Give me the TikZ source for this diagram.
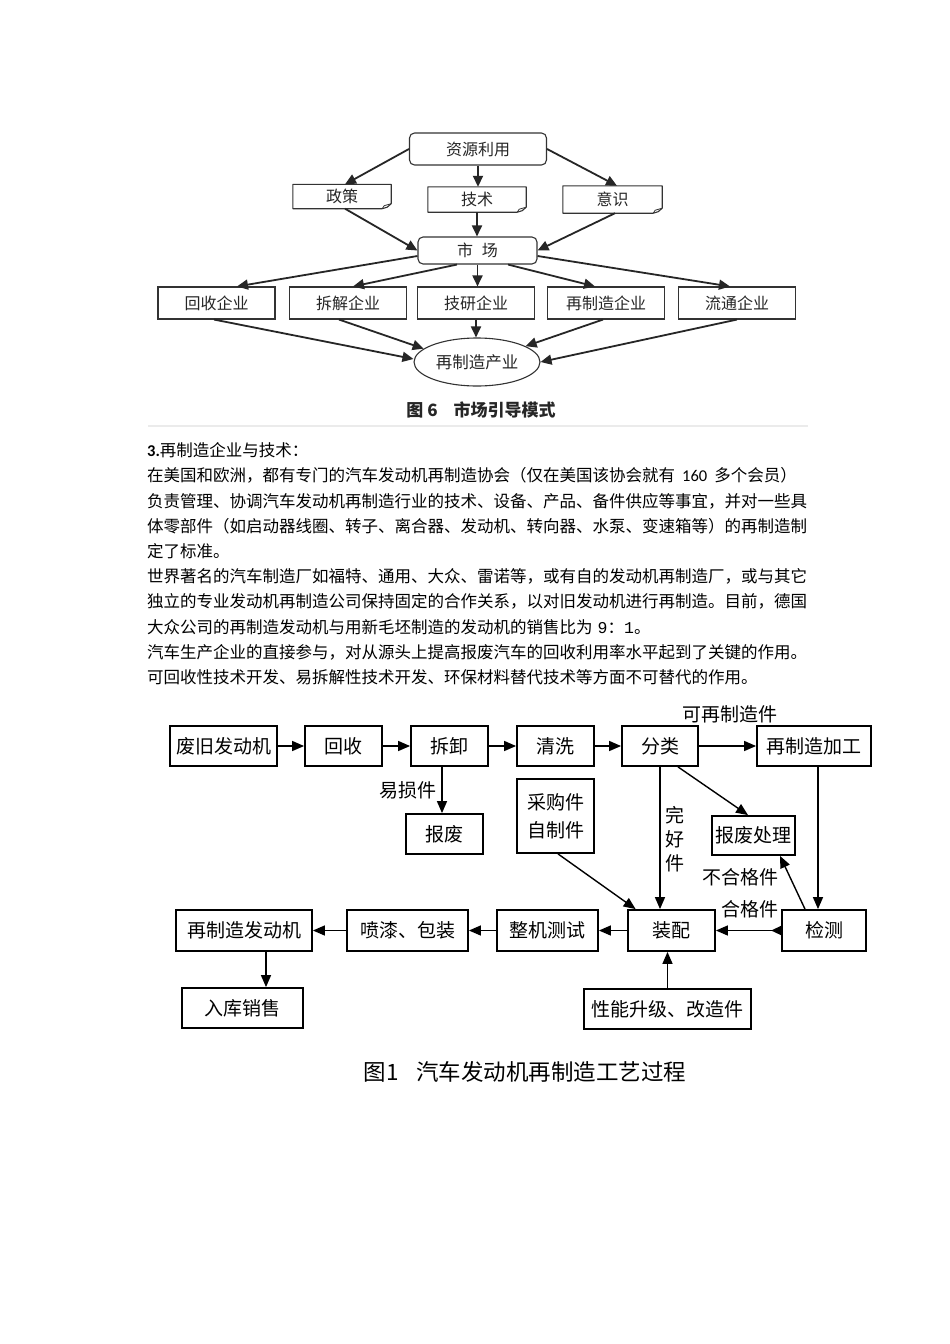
\documentclass[tikz,border=0pt]{standalone}
\usepackage{fontspec}
\newfontfamily\cjk{Noto Sans CJK SC}
\newfontfamily\carlito{Carlito}
\newfontfamily\lmono{Liberation Mono}
\usetikzlibrary{arrows.meta,shapes.geometric,calc}
\newcommand\notepath[1]{%
  \draw[line width=1.1pt, draw=black!80, line join=round]
    (#1.north west) -- (#1.north east) -- ([yshift=5pt]#1.south east)
    -- ([xshift=-4pt,yshift=1.5pt]#1.south east) -- ([xshift=-9pt]#1.south east)
    -- (#1.south west) -- cycle;
  \draw[line width=0.8pt, draw=black!80]
    ([xshift=-9pt]#1.south east) -- ([xshift=-7pt,yshift=3pt]#1.south east) -- ([yshift=5pt]#1.south east);}
\begin{document}
\begin{tikzpicture}[x=1pt,y=-1pt,
  tfont/.style={font=\cjk\fontsize{16}{16}\selectfont},
  tbox/.style={rectangle, draw=black!80, line width=1.1pt, inner sep=0pt, tfont, text=black!85},
  trbox/.style={tbox, rounded corners=5pt},
  tnote/.style={rectangle, inner sep=0pt, tfont, text=black!85},
  tarr/.style={line width=1.8pt, draw=black!85, -{Triangle[length=11pt,width=10pt]}},
  bfont/.style={font=\cjk\fontsize{19}{19}\selectfont},
  bbox/.style={rectangle, draw=black, line width=1.8pt, inner sep=0pt, bfont, minimum height=40pt},
  barr/.style={line width=1.4pt, draw=black, -{Triangle[length=12pt,width=10pt]}},
  blabel/.style={inner sep=0pt, bfont},
  para/.style={anchor=west, inner sep=0pt, font=\cjk\fontsize{16.5}{16.5}\selectfont}]
\useasboundingbox[fill=white] (0,0) rectangle (950,1344);

% ---------------- top figure ----------------
\node[trbox, minimum width=137pt, minimum height=32pt] (zy) at (478,149) {资源利用};
\node[tnote, minimum width=98pt, minimum height=24pt] (zc) at (342,196.5) {政策};
\node[tnote, minimum width=98pt, minimum height=25pt] (js) at (477,199.5) {技术};
\node[tnote, minimum width=99pt, minimum height=27pt] (ys) at (612.5,199.5) {意识};
\notepath{zc}\notepath{js}\notepath{ys}
\node[trbox, minimum width=119pt, minimum height=27pt] (sc) at (477.5,250.5) {市\hspace{9pt}场};

\node[tbox, minimum width=117pt, minimum height=32pt] (hs) at (216.5,303) {回收企业};
\node[tbox, minimum width=117pt, minimum height=32pt] (cj) at (348,303) {拆解企业};
\node[tbox, minimum width=117pt, minimum height=32pt] (jy) at (476,303) {技研企业};
\node[tbox, minimum width=117pt, minimum height=32pt] (zz) at (606,303) {再制造企业};
\node[tbox, minimum width=117pt, minimum height=32pt] (lt) at (737,303) {流通企业};
\node[ellipse, draw=black!80, line width=1.1pt, inner sep=0pt, minimum width=126pt, minimum height=48pt,
      font=\cjk\fontsize{16.5}{16.5}\selectfont, text=black!85] (zcy) at (477,362) {再制造产业};

\draw[tarr] (zy.west) -- ([xshift=3pt]zc.north);
\draw[tarr] (zy.south) -- (zy.south |- js.north);
\draw[tarr] (zy.east) -- ([xshift=4.5pt]ys.north);
\draw[tarr] ([xshift=3pt]zc.south) -- (sc.west);
\draw[tarr] (js.south) -- (js.south |- sc.north);
\draw[tarr] ([xshift=2.5pt]ys.south) -- (sc.east);

\draw[tarr] ([yshift=-5.5pt]sc.west) -- ([xshift=20.5pt]hs.north);
\draw[tarr] ([xshift=-20.5pt]sc.south) -- ([xshift=5pt]cj.north);
\draw[tarr] (sc.south) -- (sc.south |- jy.north);
\draw[tarr] ([xshift=30.5pt]sc.south) -- ([xshift=-11pt]zz.north);
\draw[tarr] ([yshift=-5.5pt]sc.east) -- ([xshift=-7pt]lt.north);

\draw[tarr] ([xshift=-2.5pt]hs.south) -- ([yshift=3pt]zcy.west);
\draw[tarr] ([xshift=-9pt]cj.south) -- (zcy.166);
\draw[tarr] (jy.south) -- (jy.south |- zcy.north);
\draw[tarr] ([xshift=-3pt]zz.south) -- (zcy.18);
\draw[tarr] (lt.south) -- (zcy.east);

\node[inner sep=0pt, font=\cjk\bfseries\fontsize{17}{17}\selectfont, text=black!85] (cap1) at (481,410)
  {图 6\hspace{16pt}市场引导模式};
\draw[line width=1.5pt, draw=black!8] (148,426) -- (808,426);

% ---------------- paragraph ----------------
\node[para] (p1) at (147,450.5) {{\carlito\bfseries 3.}再制造企业与技术：};
\node[para] (p2) at (147,475.7) {在美国和欧洲，都有专门的汽车发动机再制造协会（仅在美国该协会就有\hspace{7pt}{\carlito 160}\hspace{7pt}多个会员）};
\node[para] (p3) at (147,500.9) {负责管理、协调汽车发动机再制造行业的技术、设备、产品、备件供应等事宜，并对一些具};
\node[para] (p4) at (147,526.1) {体零部件（如启动器线圈、转子、离合器、发动机、转向器、水泵、变速箱等）的再制造制};
\node[para] (p5) at (147,551.3) {定了标准。};
\node[para] (p6) at (147,576.5) {世界著名的汽车制造厂如福特、通用、大众、雷诺等，或有自的发动机再制造厂，或与其它};
\node[para] (p7) at (147,601.7) {独立的专业发动机再制造公司保持固定的合作关系，以对旧发动机进行再制造。目前，德国};
\node[para] (p8) at (147,626.9) {大众公司的再制造发动机与用新毛坯制造的发动机的销售比为\hspace{5pt}{\lmono 9}：{\lmono 1}。};
\node[para] (p9) at (147,652.1) {汽车生产企业的直接参与，对从源头上提高报废汽车的回收利用率水平起到了关键的作用。};
\node[para] (p10) at (147,677.3) {可回收性技术开发、易拆解性技术开发、环保材料替代技术等方面不可替代的作用。};

% ---------------- bottom figure ----------------
\node[bbox, minimum width=107pt] (fj) at (223.5,746) {废旧发动机};
\node[bbox, minimum width=77pt] (hs2) at (343.5,746) {回收};
\node[bbox, minimum width=77pt] (cx) at (449.5,746) {拆卸};
\node[bbox, minimum width=77pt] (qx) at (555.5,746) {清洗};
\node[bbox, minimum width=76pt] (fl) at (660,746) {分类};
\node[bbox, minimum width=114pt] (zzjg) at (814,746) {再制造加工};
\node[bbox, minimum width=77pt] (bf) at (444.5,834) {报废};
\node[bbox, minimum width=77pt, minimum height=74pt, align=center, font=\cjk\fontsize{19}{28}\selectfont] (cg) at (555.5,816) {采购件\\自制件};
\node[bbox, minimum width=83pt, minimum height=39pt] (bfcl) at (753.5,835.5) {报废处理};
\node[bbox, minimum width=136pt, minimum height=41pt] (zzfdj) at (244,930.5) {再制造发动机};
\node[bbox, minimum width=121pt, minimum height=41pt] (pq) at (407.5,930.5) {喷漆、包装};
\node[bbox, minimum width=101pt, minimum height=41pt] (zj) at (547.5,930.5) {整机测试};
\node[bbox, minimum width=87pt, minimum height=41pt] (zp) at (671.5,930.5) {装配};
\node[bbox, minimum width=84pt, minimum height=41pt] (jc) at (824,930.5) {检测};
\node[bbox, minimum width=121pt] (rk) at (242.5,1008) {入库销售};
\node[bbox, minimum width=167pt] (xn) at (667.5,1009) {性能升级、改造件};

\node[blabel] (l1) at (408,790) {易损件};
\node[blabel] (l2) at (730,714) {可再制造件};
\node[blabel, align=center, font=\cjk\fontsize{19}{24}\selectfont] (l3) at (675,839) {完\\好\\件};
\node[blabel] (l4) at (740,877) {不合格件};
\node[blabel] (l5) at (750,909) {合格件};

\draw[barr] (fj.east) -- (hs2.west);
\draw[barr] (hs2.east) -- (cx.west);
\draw[barr] (cx.east) -- (qx.west);
\draw[barr] (qx.east) -- (fl.west);
\draw[barr] (fl.east) -- (zzjg.west);
\coordinate (c1) at ([xshift=-7.5pt]cx.south);
\draw[barr] (c1) -- (c1 |- bf.north);
\draw[barr] (fl.south) -- (fl.south |- zp.north);
\draw[barr] ([xshift=18pt]fl.south) -- ([xshift=-5.5pt]bfcl.north);
\coordinate (c2) at ([xshift=4pt]zzjg.south);
\draw[barr] (c2) -- (c2 |- jc.north);
\draw[barr] ([xshift=2.5pt]cg.south) -- ([xshift=8.5pt]zp.north west);
\draw[barr] ([xshift=-19pt]jc.north) -- ([xshift=26.5pt]bfcl.south);
\draw[barr, {Triangle[reversed,length=10pt,width=9pt]}-{Triangle[length=12pt,width=10pt]}] (jc.west) -- (zp.east);
\draw[barr] (zp.west) -- (zj.east);
\draw[barr] (zj.west) -- (pq.east);
\draw[barr] (pq.west) -- (zzfdj.east);
\coordinate (c3) at ([xshift=22pt]zzfdj.south);
\draw[barr] (c3) -- (c3 |- rk.north);
\draw[barr] (xn.north) -- (xn.north |- zp.south);

\node[inner sep=0pt, font=\cjk\fontsize{22.5}{22.5}\selectfont] (cap2) at (525,1072)
  {图1\hspace{18pt}汽车发动机再制造工艺过程};
\end{tikzpicture}
\end{document}
